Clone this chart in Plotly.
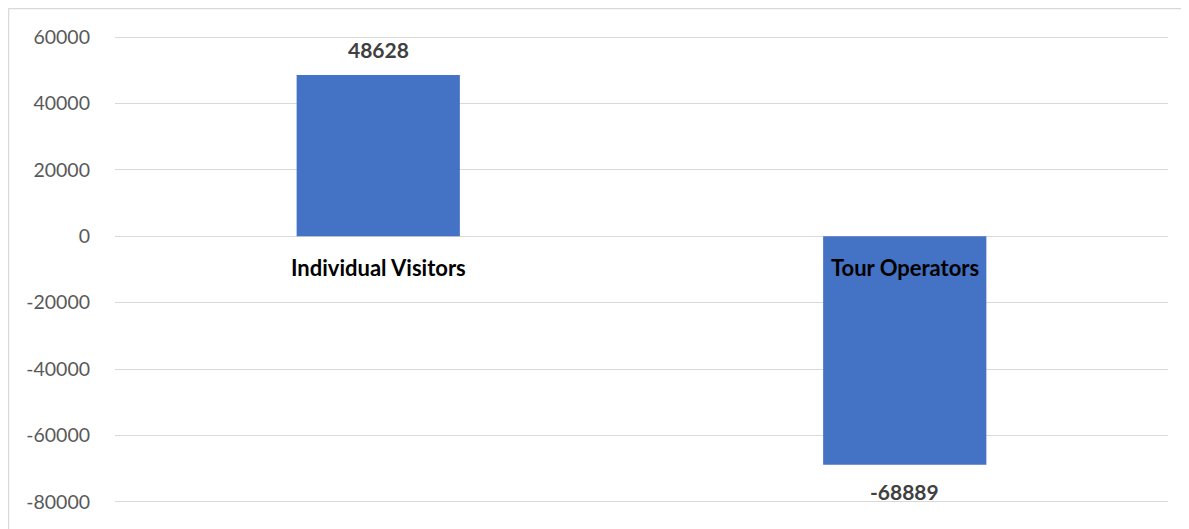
import plotly.graph_objects as go

categories = ["Individual Visitors", "Tour Operators"]
values = [48628, -68889]
y_ticks = [-80000, -60000, -40000, -20000, 0, 20000, 40000, 60000]

# the page body adds an 8px offset; size the figure to fit the window
W, H = 1181, 521
L, R, T, B = 107, 21, 26, 24
pw, ph = W - L - R, H - T - B

fig = go.Figure()
fig.add_trace(go.Bar(
    x=categories, y=values,
    marker=dict(color="#4472C4", line=dict(width=0)),
    hoverinfo="x+y",
))

for c, v in zip(categories, values):
    fig.add_annotation(
        x=c, y=v, text=f"<b>{v}</b>", showarrow=False,
        yshift=26 if v >= 0 else -27, yanchor="middle",
        font=dict(family="Lato", size=21, color="#404040"),
    )
    fig.add_annotation(
        x=c, y=0, text=f"<b>{c}</b>", showarrow=False,
        yshift=-31, yanchor="middle",
        font=dict(family="Lato", size=22, color="#000000"),
    )

# chart border (top and left edges visible)
bx = (0.5 - L) / pw
by = (H - B - 0.5) / ph
fig.add_shape(type="line", xref="paper", yref="paper", x0=bx, x1=1.2, y0=by, y1=by,
              line=dict(color="#d9d9d9", width=1.5))
fig.add_shape(type="line", xref="paper", yref="paper", x0=bx, x1=bx, y0=by, y1=-0.2,
              line=dict(color="#d9d9d9", width=1.5))

fig.update_layout(
    width=W, height=H,
    margin=dict(l=L, r=R, t=T, b=B),
    paper_bgcolor="white", plot_bgcolor="white",
    bargap=0.69,
    showlegend=False,
    font=dict(family="Lato"),
    xaxis=dict(showticklabels=False, showgrid=False, zeroline=False, showline=False,
               ticks=""),
    yaxis=dict(range=[-81000, 61000], tickvals=y_ticks,
               ticktext=[str(t) for t in y_ticks],
               showgrid=True, gridcolor="#d9d9d9", gridwidth=1.3,
               zeroline=True, zerolinecolor="#d9d9d9", zerolinewidth=1.3,
               showline=False, ticks="", ticklabelstandoff=24,
               tickfont=dict(family="Lato", size=19.5, color="#595959")),
)

fig.write_html("out.html")
